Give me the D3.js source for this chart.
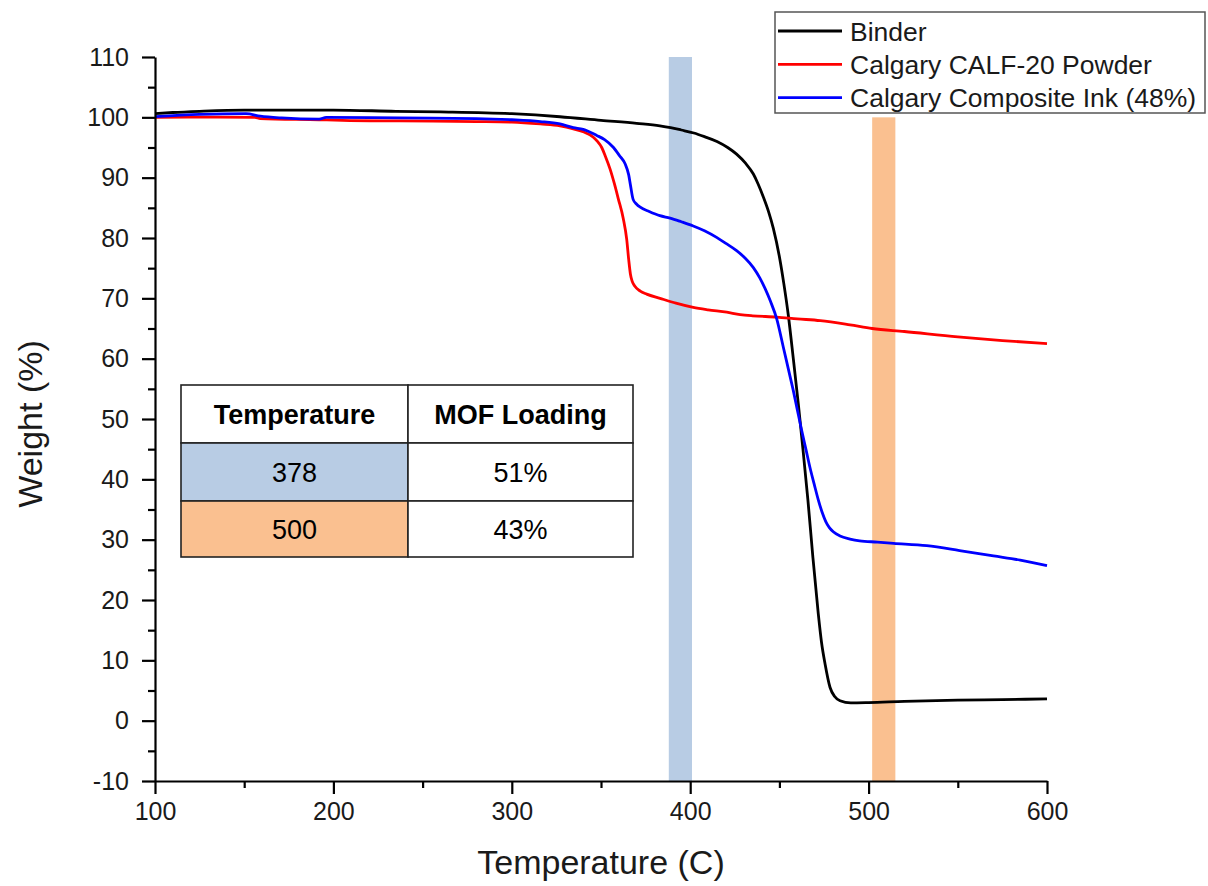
<!DOCTYPE html>
<html>
<head>
<meta charset="utf-8">
<script src="https://cdn.jsdelivr.net/npm/d3@7"></script>
<style>
  html, body { margin: 0; padding: 0; background: #fff; }
  svg { display: block; font-family: Arial, "Liberation Sans", sans-serif; }
</style>
</head>
<body>
<svg id="chart" width="1208" height="886"></svg>
<script>
// TGA weight-loss curves: [temperature °C, weight %]
const binder = [
  [100, 100.6], [110, 100.8], [125, 101.0], [150, 101.2], [200, 101.2], [235, 101.0],
  [260, 100.9], [300, 100.6], [327, 100.1], [350, 99.5], [370, 99.0], [383, 98.6],
  [389, 98.3], [395, 97.9], [402, 97.4], [408, 96.8], [415, 96.0], [421, 95.0],
  [426, 93.9], [431, 92.4], [435.4, 90.6], [438, 89.0], [441, 86.8], [444, 84.3],
  [446.6, 81.6], [450.3, 76.4], [452.5, 72.4], [455, 67.2], [457.8, 60.0], [460.6, 52.5],
  [463.2, 45.0], [466.0, 36.5], [468.8, 27.0], [471.8, 17.7], [473.6, 13.0], [475.6, 9.4],
  [478.4, 5.5], [481, 4.0], [484, 3.3], [490, 2.95], [500, 3.0], [520, 3.2],
  [550, 3.4], [575, 3.5], [600, 3.6]
];
const calfPowder = [
  [100, 100.0], [125, 100.05], [156, 100.0], [159, 99.8], [192, 99.6], [205, 99.5],
  [237, 99.4], [280, 99.3], [300, 99.2], [316, 98.9], [327, 98.6], [334.5, 98.1],
  [340, 97.6], [345.7, 96.7], [348, 96.0], [350.4, 95.0], [352.5, 93.5], [355, 91.5],
  [357.5, 89.0], [359.7, 86.5], [362.5, 83.2], [364.4, 79.8], [365.5, 76.5], [366.5, 74.0],
  [367.5, 72.8], [369, 72.0], [372, 71.2], [375.6, 70.7], [383.1, 70.0], [392, 69.2],
  [401.7, 68.5], [410, 68.1], [420.5, 67.7], [428, 67.3], [435, 67.1], [448.5, 66.9],
  [460, 66.6], [472.9, 66.3], [489.6, 65.6], [502, 65.0], [520, 64.5], [550, 63.6],
  [575, 63.0], [600, 62.5]
];
const compositeInk = [
  [100, 100.1], [125, 100.5], [151, 100.6], [159, 100.2], [171, 99.9], [192, 99.7],
  [196, 100.0], [237, 99.9], [280, 99.8], [300, 99.6], [316, 99.3], [327, 98.9],
  [334.5, 98.3], [340, 98.0], [347.6, 97.0], [352, 96.3], [357, 95.0], [360.5, 93.6],
  [363.5, 92.3], [365.5, 90.5], [366.5, 88.8], [368, 86.4], [370, 85.6], [372, 85.1],
  [377, 84.4], [383, 83.7], [388.7, 83.3], [395, 82.7], [401.7, 82.0], [408, 81.2],
  [414.8, 80.1], [420, 79.1], [426, 77.9], [431, 76.6], [435.4, 75.1], [439, 73.4],
  [442, 71.6], [445, 69.5], [448.5, 66.6], [452.2, 61.9], [455, 58.3], [457.8, 54.7],
  [460, 51.6], [462.5, 48.1], [465, 44.8], [467.1, 42.0], [469.5, 39.2], [471.8, 36.6],
  [474, 34.5], [476, 33.0], [478, 32.0], [480.2, 31.3], [484, 30.6], [489.6, 30.1],
  [495, 29.8], [505, 29.6], [514, 29.4], [532.6, 29.0], [551, 28.2], [570, 27.3],
  [585, 26.6], [600, 25.7]
];

const seriesNames = ["Binder", "Calgary CALF-20 Powder", "Calgary Composite Ink (48%)"];
const seriesColors = ["#000000", "#ff0000", "#0000ff"];

// Highlighted temperature windows: [start °C, end °C, top weight %]
const bandRanges = [[388, 401, 110], [502, 515, 100]];
const bandColors = ["#b8cce4", "#fac090"];

// Inset table
const tableHeaders = ["Temperature", "MOF Loading"];
const tableTemps = ["378", "500"];
const tableLoadings = ["51%", "43%"];

const xTicks = [100, 200, 300, 400, 500, 600];
const yTicks = [-10, 0, 10, 20, 30, 40, 50, 60, 70, 80, 90, 100, 110];

const svg = d3.select("#chart");
const plot = { left: 155, right: 1047, top: 57, bottom: 781 };

const x = d3.scaleLinear().domain([100, 600]).range([plot.left, plot.right]);
const y = d3.scaleLinear().domain([-10, 110]).range([plot.bottom, plot.top]);

// shaded bands
svg.append("g").selectAll("rect").data(bandRanges).join("rect")
  .attr("x", d => x(d[0]))
  .attr("width", d => x(d[1]) - x(d[0]))
  .attr("y", d => y(d[2]))
  .attr("height", d => y(-10) - y(d[2]))
  .attr("fill", (d, i) => bandColors[i]);

// curves
const line = d3.line().x(d => x(d[0])).y(d => y(d[1])).curve(d3.curveMonotoneX);
[binder, calfPowder, compositeInk].forEach((s, i) => {
  svg.append("path").datum(s)
    .attr("d", line)
    .attr("fill", "none")
    .attr("stroke", seriesColors[i])
    .attr("stroke-width", 2.8)
    .attr("stroke-linejoin", "round");
});

// axes
const fmt = d => String(d);
const xAxis = svg.append("g").attr("transform", `translate(0,${plot.bottom})`)
  .call(d3.axisBottom(x).tickValues(xTicks).tickFormat(fmt).tickSize(13).tickPadding(8).tickSizeOuter(0));
const xMinor = svg.append("g").attr("transform", `translate(0,${plot.bottom})`)
  .call(d3.axisBottom(x).tickValues(d3.range(150, 600, 100)).tickFormat("").tickSize(7).tickSizeOuter(0));
const yAxis = svg.append("g").attr("transform", `translate(${plot.left},0)`)
  .call(d3.axisLeft(y).tickValues(yTicks).tickFormat(fmt).tickSize(13).tickPadding(13).tickSizeOuter(0));
const yMinor = svg.append("g").attr("transform", `translate(${plot.left},0)`)
  .call(d3.axisLeft(y).tickValues(d3.range(-5, 110, 10)).tickFormat("").tickSize(7).tickSizeOuter(0));

[xAxis, xMinor, yAxis, yMinor].forEach(g => {
  g.selectAll("path, line").attr("stroke", "#000").attr("stroke-width", 2.2);
  g.selectAll("text").attr("font-size", 25).attr("fill", "#1a1a1a")
    .attr("font-family", "Arial, 'Liberation Sans', sans-serif");
});
xMinor.select(".domain").remove();
yMinor.select(".domain").remove();

// axis titles
svg.append("text").attr("x", 601).attr("y", 874).attr("text-anchor", "middle")
  .attr("font-size", 34).attr("fill", "#1a1a1a").text("Temperature (C)");
svg.append("text").attr("transform", "translate(42,424) rotate(-90)").attr("text-anchor", "middle")
  .attr("font-size", 34).attr("fill", "#1a1a1a").text("Weight (%)");

// legend
const lg = svg.append("g");
lg.append("rect").attr("x", 775).attr("y", 12).attr("width", 430).attr("height", 101)
  .attr("fill", "#fff").attr("stroke", "#555").attr("stroke-width", 1.5);
seriesNames.forEach((name, i) => {
  const cy = 31 + i * 33.3;
  lg.append("line").attr("x1", 778).attr("x2", 842).attr("y1", cy).attr("y2", cy)
    .attr("stroke", seriesColors[i]).attr("stroke-width", 2.8);
  lg.append("text").attr("x", 850).attr("y", cy).attr("dy", "0.36em")
    .attr("font-size", 26.5).attr("fill", "#1a1a1a").text(name);
});

// inset table
const tb = svg.append("g");
const colX = [181, 408, 633];
const rowY = [385, 443, 501, 557];
const rows = [tableHeaders].concat(tableTemps.map((t, i) => [t, tableLoadings[i]]));
rows.forEach((r, ri) => {
  r.forEach((cell, ci) => {
    const fill = (ri > 0 && ci === 0) ? bandColors[ri - 1] : "#fff";
    tb.append("rect").attr("x", colX[ci]).attr("y", rowY[ri])
      .attr("width", colX[ci + 1] - colX[ci]).attr("height", rowY[ri + 1] - rowY[ri])
      .attr("fill", fill).attr("stroke", "#222").attr("stroke-width", 1.6);
    tb.append("text")
      .attr("x", (colX[ci] + colX[ci + 1]) / 2)
      .attr("y", (rowY[ri] + rowY[ri + 1]) / 2)
      .attr("dy", "0.36em").attr("text-anchor", "middle")
      .attr("font-size", 27).attr("font-weight", ri === 0 ? "bold" : "normal")
      .attr("fill", "#000").text(cell);
  });
});
</script>
</body>
</html>
